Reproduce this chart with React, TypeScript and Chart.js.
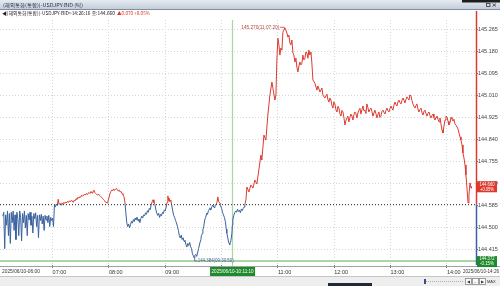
import React, { useEffect, useRef } from "react";
import { Chart, registerables } from "chart.js";

Chart.register(...registerables);

// ---------- texts ----------
const TITLE = "(해외통화(통합))-USDJPY-BID (틱)";
const HEADER_MAIN = "◀(해외통화(통합))-USDJPY-BID>14:26:16 종:144.660";
const HEADER_CHANGE = "▲0.070 +0.05%";
const X_FIRST_LABEL = "2025/06/10-06:00";
const X_LAST_LABEL = "2025/06/10-14:26";
const CROSS_X_LABEL = "2025/06/10-10:11:10";

// ---------- reference values ----------
const PREV_CLOSE = 144.59;
const LAST_PRICE = 144.66;
const LAST_CHANGE = "+0.05%";
const CROSS_MINUTE = 251.1667; // 10:11:10 (minutes after 06:00)
const CROSS_PRICE = 144.372;
const CROSS_CHANGE = "-0.15%";

// ---------- axes ----------
const X_MIN = 4;
const X_MAX = 511;
const X_TICK_MINUTES = [60, 120, 180, 240, 300, 360, 420, 480];
const X_TICK_LABELS = ["07:00", "08:00", "09:00", "10:00", "11:00", "12:00", "13:00", "14:00"];
const Y_MIN = 144.357;
const Y_MAX = 145.3;
const Y_TICKS = [144.415, 144.5, 144.585, 144.67, 144.755, 144.84, 144.925, 145.01, 145.095, 145.18, 145.265];

// ---------- tick data: [minutes after 06:00, bid] ----------
const TICKS_0600: [number, number][] = [
  [7, 144.545], [8, 144.56], [9, 144.42], [10, 144.55], [11, 144.51], [12, 144.565], [13, 144.47], [14, 144.555],
  [15, 144.44], [16, 144.56], [17, 144.52], [18, 144.565], [19, 144.49], [20, 144.55], [21, 144.455], [22, 144.56],
  [23, 144.535], [24, 144.47], [25, 144.565], [26, 144.54], [27, 144.45], [28, 144.555], [29, 144.52], [30, 144.565],
  [31, 144.5], [32, 144.548], [33, 144.47], [34, 144.555], [35, 144.53], [36, 144.56], [37, 144.51], [38, 144.545],
  [39, 144.48], [40, 144.555], [41, 144.535], [42, 144.558], [43, 144.505], [44, 144.548], [45, 144.462], [46, 144.55],
  [47, 144.528], [48, 144.552], [49, 144.515], [50, 144.545], [51, 144.49], [52, 144.548], [53, 144.53], [54, 144.545],
  [55, 144.52], [56, 144.548], [57, 144.505], [58, 144.54], [59, 144.528], [60, 144.538], [61, 144.505],
];

const TICKS_0700: [number, number][] = [
  [62, 144.588], [63, 144.58], [64, 144.592], [65, 144.586], [66, 144.61], [67, 144.59], [68, 144.594], [69, 144.588],
  [70, 144.596], [71, 144.592], [72, 144.598], [73, 144.594], [74, 144.6], [75, 144.596], [76, 144.602], [77, 144.598],
  [78, 144.604], [79, 144.6], [80, 144.606], [81, 144.604], [82, 144.598], [83, 144.606], [84, 144.604], [85, 144.612],
  [86, 144.61], [87, 144.618], [88, 144.614], [89, 144.62], [90, 144.618], [91, 144.626], [92, 144.622], [93, 144.624],
  [94, 144.63], [95, 144.626], [96, 144.632], [97, 144.628], [98, 144.634], [99, 144.636], [100, 144.632], [101, 144.64],
  [102, 144.634], [103, 144.638], [104, 144.645], [105, 144.636], [106, 144.632], [107, 144.628], [108, 144.626], [109, 144.63],
  [110, 144.624], [111, 144.622], [112, 144.618], [113, 144.614], [114, 144.61], [115, 144.606], [116, 144.6], [117, 144.598],
  [118, 144.596], [119, 144.604], [120, 144.615], [121, 144.63], [122, 144.64], [123, 144.646], [124, 144.642], [125, 144.65],
  [126, 144.644], [127, 144.648], [128, 144.652], [129, 144.646], [130, 144.642], [131, 144.645], [132, 144.638], [133, 144.64],
  [134, 144.632], [135, 144.628], [136, 144.62], [137, 144.6], [138, 144.56], [139, 144.52], [140, 144.505], [141, 144.515],
  [142, 144.5],
];

const TICKS_0820: [number, number][] = [
  [143, 144.512], [144, 144.525], [145, 144.518], [146, 144.532], [147, 144.524], [148, 144.538], [149, 144.53], [150, 144.541],
  [151, 144.527], [152, 144.534], [153, 144.52], [154, 144.536], [155, 144.545], [156, 144.538], [157, 144.55], [158, 144.546],
  [159, 144.558], [160, 144.552], [161, 144.566], [162, 144.56], [163, 144.575], [164, 144.57], [165, 144.588], [166, 144.6],
  [167, 144.608], [168, 144.596], [169, 144.59], [170, 144.57], [171, 144.557], [172, 144.548], [173, 144.556], [174, 144.54],
  [175, 144.552], [176, 144.546], [177, 144.56], [178, 144.555], [179, 144.569], [180, 144.565], [181, 144.58], [182, 144.598],
  [182.8, 144.623], [183.5, 144.605], [184, 144.615], [185, 144.6], [186, 144.607], [187, 144.585], [188, 144.565], [189, 144.548],
  [190, 144.54], [191, 144.528], [192, 144.519], [193, 144.505], [194, 144.49], [195, 144.47], [196, 144.461], [197, 144.472],
  [198, 144.455], [199, 144.462], [200, 144.448], [201, 144.452], [202, 144.436], [203, 144.426], [204, 144.44], [205, 144.432],
  [206, 144.444], [207, 144.428], [208, 144.42], [209, 144.4], [210, 144.392], [210.8333, 144.384], [211.5, 144.394], [212.5, 144.398],
  [213.5, 144.39], [214.7, 144.407], [215.5, 144.42], [216.9, 144.442], [218, 144.455], [218.5, 144.47], [219.5, 144.478], [220.1, 144.492],
  [221, 144.505], [222, 144.53], [223, 144.54], [224.3, 144.557], [225, 144.552], [226, 144.566], [227, 144.572], [227.5, 144.577],
  [228.5, 144.568], [229.5, 144.58], [230.7, 144.588], [232, 144.578], [233, 144.584], [234, 144.59], [235, 144.596], [236, 144.619],
  [237, 144.6], [238.2, 144.596], [239, 144.585], [240, 144.575], [241, 144.56], [242, 144.55], [243, 144.54], [244, 144.525],
  [245, 144.495], [245.6, 144.48], [246.7, 144.461], [247.5, 144.445], [248.8, 144.434], [249.5, 144.448], [250, 144.452], [251, 144.48],
  [251.5, 144.51], [252, 144.53], [253, 144.548], [254, 144.558], [255, 144.565], [256, 144.56], [257, 144.572], [258, 144.563],
  [259, 144.568], [260, 144.558], [261, 144.572], [262, 144.566], [263, 144.575], [264, 144.58], [264.8, 144.588], [266, 144.61],
];

const TICKS_1027: [number, number][] = [
  [267, 144.657], [269.1, 144.638], [271.2, 144.665], [273.4, 144.653], [275.5, 144.684], [277.6, 144.669], [279.7, 144.723], [281.9, 144.78],
  [282.9, 144.761], [285.1, 144.857], [287.2, 144.838], [289.3, 144.934], [291.5, 145.011], [293.6, 145.061], [294.7, 145.038], [296.8, 144.992],
  [297.9, 145.011], [298.9, 145.146], [300, 145.23], [301.1, 145.204], [302.1, 145.165], [303.2, 145.192], [304.3, 145.184], [305.3, 145.253],
  [306.4, 145.261], [307.3333, 145.27], [308.5, 145.261], [309.6, 145.25], [310.6, 145.234], [311.7, 145.242], [312.8, 145.211], [313.8, 145.204],
  [314.9, 145.223], [316, 145.173], [317, 145.165], [318.1, 145.138], [319.2, 145.153], [320.2, 145.119], [321.3, 145.1], [322.4, 145.123],
  [323.4, 145.138], [324.5, 145.127], [325.6, 145.134], [326.6, 145.165], [327.7, 145.146], [328.8, 145.153], [329.8, 145.177], [330.9, 145.173],
  [332, 145.153], [333, 145.184], [334.1, 145.165], [335.2, 145.177], [336.2, 145.134], [337.3, 145.069], [339.4, 145.057], [341.6, 145.03],
  [342.6, 145.046], [344.8, 145.023], [346.9, 145.038], [348, 145.011], [350.1, 145.0],
];

const TICKS_1150: [number, number][] = [
  [351.2, 145.008], [352.2, 145.015], [353.2, 144.995], [354.3, 144.984], [355.4, 145.0], [356.5, 144.992], [357.5, 144.972], [358.6, 144.961],
  [359.6, 144.985], [360.7, 144.977], [361.8, 144.955], [362.9, 144.946], [364, 144.968], [365, 144.961], [366, 144.94], [367.1, 144.93],
  [368.2, 144.952], [369.3, 144.946], [370.3, 144.925], [371.4, 144.896], [372.4, 144.912], [373.5, 144.923], [374.5, 144.93], [375.6, 144.908],
  [376.7, 144.925], [377.8, 144.938], [378.9, 144.93], [379.9, 144.915], [381, 144.935], [382, 144.946], [383.1, 144.94], [384.2, 144.923],
  [385.2, 144.942], [386.3, 144.953], [387.4, 144.96], [388.4, 144.938], [389.5, 144.955], [390.6, 144.969], [391.6, 144.95], [392.7, 144.953],
  [393.8, 144.94], [394.8, 144.977], [395.9, 144.962], [396.9, 144.946], [398, 144.955], [399.1, 144.961], [400.1, 144.948], [401.2, 144.93],
  [402.3, 144.942], [403.3, 144.953], [404.4, 144.94], [405.5, 144.923], [406.5, 144.935], [407.6, 144.946], [408.6, 144.925], [409.7, 144.93],
  [410.8, 144.948], [411.9, 144.953], [412.9, 144.945], [414, 144.938], [415, 144.95], [416.1, 144.961], [417.2, 144.952], [418.3, 144.946],
  [419.3, 144.958], [420.4, 144.969], [421.5, 144.96], [422.5, 144.953], [423.6, 144.972], [424.7, 144.984], [425.7, 144.975], [426.8, 144.969],
  [427.9, 144.985], [428.9, 144.992], [430, 144.982], [431.1, 144.977], [432.1, 144.99], [433.2, 145.0], [434.2, 144.992], [435.3, 144.981],
  [436.4, 144.995], [437.4, 145.004], [438.5, 144.998], [439.6, 144.992], [440.6, 145.012], [441.7, 145.007], [442.8, 144.99], [443.8, 144.977],
  [444.9, 144.968], [446, 144.961], [447, 144.97], [448.1, 144.977], [449.1, 144.958], [450.2, 144.946], [451.3, 144.955], [452.4, 144.961],
  [453.4, 144.945], [454.5, 144.934], [455.6, 144.948], [456.6, 144.953], [457.7, 144.94], [458.8, 144.93], [459.8, 144.94], [460.9, 144.946],
  [462, 144.932], [463, 144.923], [464.1, 144.932], [465.2, 144.938], [466.2, 144.925], [467.3, 144.915], [468.4, 144.925], [469.4, 144.93],
  [470.5, 144.918], [471.6, 144.908], [472.6, 144.923], [473.7, 144.9], [474.8, 144.877], [475.8, 144.865], [476.9, 144.892], [478, 144.915],
  [479, 144.93], [480.1, 144.927], [481.2, 144.91], [482.2, 144.896], [483.3, 144.904], [484.4, 144.925], [485.4, 144.919], [486.5, 144.911],
  [487.5, 144.918], [488.6, 144.9], [489.7, 144.895], [490.8, 144.888], [491.9, 144.88], [492.9, 144.865], [494, 144.85], [495, 144.838],
  [496.1, 144.819], [497.1, 144.788], [498.2, 144.769], [499.3, 144.742], [500.3, 144.703], [501.4, 144.653], [502.5, 144.596], [503.5, 144.627],
  [504.6, 144.673], [505.7, 144.653], [506.27, 144.66],
];

const ALL_TICKS = [...TICKS_0600, ...TICKS_0700, ...TICKS_0820, ...TICKS_1027, ...TICKS_1150];

// ---------- style ----------
const W = 500;
const H = 286;
const FONT = '"Liberation Sans", Arial, sans-serif';
const KFONT = '"Noto Sans CJK KR", "Liberation Sans", sans-serif';
const RED = "#dc3a2f";
const BLUE = "#3a619f";
const GREEN_LINE = "#a8d8a2";
const GREEN_BOX = "#1f8a2b";

function fmtTime(m: number) {
  const s = Math.round((360 + m) * 60);
  const hh = Math.floor(s / 3600);
  const mm = Math.floor((s % 3600) / 60);
  const ss = s % 60;
  const p = (n: number) => String(n).padStart(2, "0");
  return `${p(hh)}:${p(mm)}:${p(ss)}`;
}

function fitText(c: CanvasRenderingContext2D, text: string, x: number, y: number, width: number) {
  const w = c.measureText(text).width;
  c.save();
  c.translate(x, y);
  c.scale(width / w, 1);
  c.fillText(text, 0, 0);
  c.restore();
}

const overlay = {
  id: "overlay",
  beforeDraw(chart: any) {
    const c: CanvasRenderingContext2D = chart.ctx;
    c.save();
    c.fillStyle = "#ffffff";
    c.fillRect(0, 0, W, H);
    // title bar
    const g = c.createLinearGradient(0, 0, 0, 9);
    g.addColorStop(0, "#e6ebf2");
    g.addColorStop(1, "#c4cdda");
    c.fillStyle = g;
    c.fillRect(0, 0, W, 9);
    c.fillStyle = "#7f8ea3";
    c.fillRect(0, 9, W, 1);
    c.fillStyle = "#1d1d1d";
    c.fillRect(462, 0, 38, 2.5);
    c.strokeStyle = "#333";
    c.lineWidth = 0.8;
    c.strokeRect(486.5, 3.5, 3.5, 3);
    c.beginPath();
    c.moveTo(492.5, 3.5);
    c.lineTo(496, 6.5);
    c.moveTo(496, 3.5);
    c.lineTo(492.5, 6.5);
    c.stroke();
    c.textBaseline = "middle";
    c.textAlign = "left";
    c.fillStyle = "#1c2736";
    c.font = `5px ${KFONT}`;
    fitText(c, TITLE, 3, 5, 80);
    // header
    c.fillStyle = "#222";
    c.font = `5px ${KFONT}`;
    fitText(c, HEADER_MAIN, 2, 13, 113);
    c.fillStyle = RED;
    fitText(c, HEADER_CHANGE, 117, 13, 33);
    // scroll area
    c.fillStyle = "#eeeeee";
    c.fillRect(0, 277, W, 9);
    c.fillStyle = "#1f2a38";
    c.fillRect(328, 283, 44, 3);
    c.strokeStyle = "#9aa3b0";
    c.setLineDash([1, 1]);
    c.beginPath();
    c.moveTo(424, 281.5);
    c.lineTo(463, 281.5);
    c.stroke();
    c.setLineDash([]);
    c.fillStyle = "#3b4a8a";
    c.fillRect(424, 279, 2, 5);
    c.strokeStyle = "#888";
    c.lineWidth = 0.8;
    [465, 472, 479].forEach((bx) => {
      c.fillStyle = "#fafafa";
      c.fillRect(bx, 278.5, 6, 6);
      c.strokeRect(bx + 0.5, 278.5, 6, 6);
    });
    c.fillStyle = "#333";
    c.font = `4px ${FONT}`;
    c.fillText("◀", 466.5, 281.8);
    c.fillText("–", 474, 281.8);
    c.fillText("▶", 480.5, 281.8);
    c.fillText("MAX", 487, 281.8);
    c.restore();
  },
  beforeDatasetsDraw(chart: any) {
    const c: CanvasRenderingContext2D = chart.ctx;
    const { chartArea, scales } = chart;
    const xs = scales.x;
    const ys = scales.y;
    c.save();
    const cx = Math.round(xs.getPixelForValue(CROSS_MINUTE)) + 0.5;
    const cy = Math.round(ys.getPixelForValue(CROSS_PRICE));
    c.strokeStyle = GREEN_LINE;
    c.lineWidth = 1.2;
    c.beginPath();
    c.moveTo(cx, chartArea.top);
    c.lineTo(cx, 268);
    c.stroke();
    c.lineWidth = 2;
    c.beginPath();
    c.moveTo(0, cy);
    c.lineTo(chartArea.right, cy);
    c.stroke();
    c.restore();
  },
  afterDatasetsDraw(chart: any) {
    const c: CanvasRenderingContext2D = chart.ctx;
    const { chartArea, scales } = chart;
    const xs = scales.x;
    const ys = scales.y;
    c.save();
    // baseline (previous close)
    const by = Math.round(ys.getPixelForValue(PREV_CLOSE)) + 0.5;
    c.strokeStyle = "#444";
    c.lineWidth = 1;
    c.setLineDash([1, 2]);
    c.beginPath();
    c.moveTo(0, by);
    c.lineTo(chartArea.right, by);
    c.stroke();
    c.setLineDash([]);
    // right axis line, red above / blue below
    const ax = chartArea.right + 0.5;
    c.lineWidth = 1.5;
    c.strokeStyle = RED;
    c.beginPath();
    c.moveTo(ax, 11);
    c.lineTo(ax, by);
    c.stroke();
    c.strokeStyle = BLUE;
    c.beginPath();
    c.moveTo(ax, by);
    c.lineTo(ax, chartArea.bottom);
    c.stroke();

    // high / low labels
    let hi = 0;
    let lo = 0;
    ALL_TICKS.forEach((t, i) => {
      if (t[1] > ALL_TICKS[hi][1]) hi = i;
      if (t[1] < ALL_TICKS[lo][1]) lo = i;
    });
    const [hm, hv] = ALL_TICKS[hi];
    const [lm, lv] = ALL_TICKS[lo];
    const hx = xs.getPixelForValue(hm);
    const hy = ys.getPixelForValue(hv);
    c.strokeStyle = RED;
    c.lineWidth = 0.8;
    c.beginPath();
    c.moveTo(hx - 5, hy - 0.5);
    c.lineTo(hx, hy - 0.5);
    c.stroke();
    c.fillStyle = "#b3473d";
    c.textBaseline = "middle";
    c.textAlign = "left";
    c.font = `5px ${FONT}`;
    const hiW = 38;
    fitText(c, `${hv.toFixed(3)}(${fmtTime(hm)})`, hx - 5.5 - hiW, hy - 0.5, hiW);

    const lx = xs.getPixelForValue(lm);
    const ly = ys.getPixelForValue(lv);
    c.strokeStyle = "#4a5f95";
    c.beginPath();
    c.moveTo(lx + 0.5, ly);
    c.lineTo(lx + 0.5, ly + 3);
    c.lineTo(lx + 3, ly + 3);
    c.stroke();
    c.fillStyle = "#4a5f95";
    fitText(c, `${lv.toFixed(3)}(${fmtTime(lm)})`, lx + 3.5, ly + 3, 36);
    c.restore();
  },
  afterDraw(chart: any) {
    const c: CanvasRenderingContext2D = chart.ctx;
    const { chartArea, scales } = chart;
    const xs = scales.x;
    const ys = scales.y;
    c.save();
    // x label band borders
    c.fillStyle = "#a0a0a0";
    c.fillRect(0, 266, W, 1);
    c.fillStyle = "#c6c6c6";
    c.fillRect(0, 276, W, 1);
    c.font = `5.5px ${FONT}`;
    c.textBaseline = "middle";
    c.fillStyle = "#333";
    c.textAlign = "left";
    fitText(c, X_FIRST_LABEL, 2, 271.5, 38);
    fitText(c, X_LAST_LABEL, 463, 271.5, 36);

    // crosshair x box
    const cx = xs.getPixelForValue(CROSS_MINUTE);
    c.fillStyle = GREEN_BOX;
    c.fillRect(cx - 22, 267, 45, 9);
    c.fillStyle = "#fff";
    c.font = `5px ${FONT}`;
    fitText(c, CROSS_X_LABEL, cx - 20.5, 271.7, 42);

    // right price boxes
    const boxX = chartArea.right + 1;
    const drawBox = (price: number, change: string, color: string) => {
      const y = ys.getPixelForValue(price);
      c.fillStyle = color;
      c.fillRect(boxX, y - 5, 20, 11);
      c.fillStyle = "#fff";
      c.font = `4.8px ${FONT}`;
      fitText(c, price.toFixed(3), boxX + 2.5, y - 2, 15);
      fitText(c, change, boxX + 3, y + 3, 14);
    };
    drawBox(LAST_PRICE, LAST_CHANGE, RED);
    drawBox(CROSS_PRICE, CROSS_CHANGE, GREEN_BOX);
    c.restore();
  },
};

export default function App() {
  const ref = useRef<HTMLCanvasElement | null>(null);

  useEffect(() => {
    const canvas = ref.current;
    if (!canvas) return;
    const points = ALL_TICKS.map(([m, v]) => ({ x: m, y: v }));

    const chart = new Chart(canvas, {
      type: "line",
      data: {
        datasets: [
          {
            data: points,
            borderWidth: 1,
            pointRadius: 0,
            tension: 0,
            fill: false,
            borderColor: (ctx: any) => {
              const ch = ctx.chart;
              const { chartArea, scales } = ch;
              if (!chartArea || !scales.y) return RED;
              const yb = scales.y.getPixelForValue(PREV_CLOSE);
              let t = (yb - chartArea.top) / (chartArea.bottom - chartArea.top);
              t = Math.min(1, Math.max(0, t));
              const g = ch.ctx.createLinearGradient(0, chartArea.top, 0, chartArea.bottom);
              g.addColorStop(0, RED);
              g.addColorStop(t, RED);
              g.addColorStop(t, BLUE);
              g.addColorStop(1, BLUE);
              return g;
            },
          },
        ],
      },
      options: {
        animation: false,
        responsive: false,
        devicePixelRatio: 1,
        layout: { padding: { top: 20, left: 0, right: 0, bottom: 0 } },
        plugins: { legend: { display: false }, tooltip: { enabled: false } },
        scales: {
          x: {
            type: "linear",
            min: X_MIN,
            max: X_MAX,
            afterBuildTicks: (s: any) => {
              s.ticks = X_TICK_MINUTES.map((v) => ({ value: v }));
            },
            afterFit: (s: any) => {
              s.height = H - 265;
            },
            ticks: {
              callback: (_v: any, i: number) => X_TICK_LABELS[i] ?? "",
              align: "start",
              maxRotation: 0,
              minRotation: 0,
              autoSkip: false,
              padding: 1,
              color: "#333",
              font: { size: 5.5, family: FONT },
            },
            grid: { color: "#d6d6d6", tickColor: "#777", tickLength: 3, drawTicks: true, tickBorderDash: [] },
            border: { display: false, dash: [1, 2] },
          },
          y: {
            position: "right",
            min: Y_MIN,
            max: Y_MAX,
            afterBuildTicks: (s: any) => {
              s.ticks = Y_TICKS.map((v) => ({ value: v }));
            },
            afterFit: (s: any) => {
              s.width = 24;
            },
            ticks: {
              callback: (v: any) => Number(v).toFixed(3),
              padding: 0,
              color: "#444",
              font: { size: 5.5, family: FONT },
            },
            grid: { color: "#d6d6d6", tickColor: "#777", tickLength: 2, drawTicks: true, tickBorderDash: [] },
            border: { display: false, dash: [1, 2] },
          },
        },
      } as any,
      plugins: [overlay],
    });
    return () => chart.destroy();
  }, []);

  return (
    <div style={{ position: "fixed", left: 0, top: 0, width: W, height: H, background: "#fff", overflow: "hidden" }}>
      <canvas ref={ref} width={W} height={H} style={{ display: "block", width: W, height: H }} />
    </div>
  );
}
